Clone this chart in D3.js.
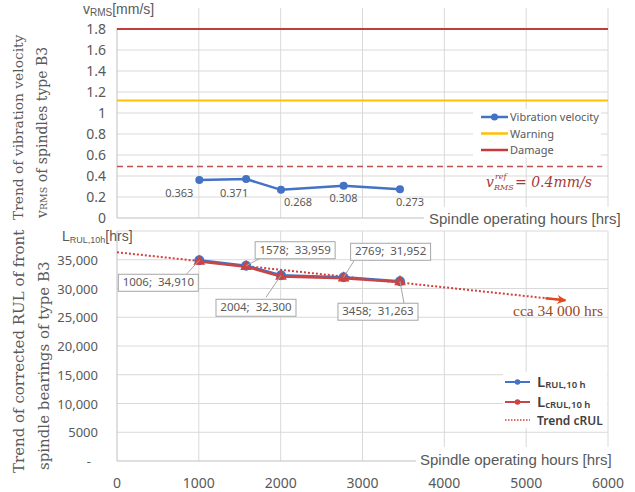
<!DOCTYPE html>
<html>
<head>
<meta charset="utf-8">
<script src="https://cdn.jsdelivr.net/npm/d3@7"></script>
<style>
  body { margin: 0; background: #fff; }
  svg { display: block; }
</style>
</head>
<body>
<svg id="chart" width="635" height="492"></svg>
<script>
// spindle operating hours (shared by both panels)
var hours = [1006, 1578, 2004, 2769, 3458];
// top panel: vibration velocity [mm/s]
var vibration = [0.363, 0.371, 0.268, 0.308, 0.273];
var warningLevel = 1.12;
var damageLevel = 1.8;
var refLevel = 0.49;
// bottom panel: RUL [hrs]
var rul = [34910, 33959, 32300, 31952, 31263];
var crul = [34700, 33800, 32100, 31800, 31150];
var trendHours = [0, 5480];
var trendValues = [36300, 27950];

var xTicks = [0, 1000, 2000, 3000, 4000, 5000, 6000];
var topTicks = [0, 0.2, 0.4, 0.6, 0.8, 1, 1.2, 1.4, 1.6, 1.8];
var botTicks = [0, 5000, 10000, 15000, 20000, 25000, 30000, 35000];

// label offsets (pixels) - placed by hand like in the original
var vibLabelOff = [[-20, 17], [-12, 18], [17, 16], [0, 16], [10, 17]];
var rulBoxOff = [[-41, 22], [49, -16], [-25, 32], [47, -26], [-22, 30]];
var rulLeadOff = [[-13, 14], [15, -8], [-15, 22], [12, -19], [4, 22]];

var svg = d3.select("#chart");
var grid = "#d9d9d9", axisCol = "#bfbfbf", txt = "#595959";

var x = d3.scaleLinear().domain([0, 6000]).range([117, 608]);
var yT = d3.scaleLinear().domain([0, 2]).range([218, 8]);
var yB = d3.scaleLinear().domain([0, 40000]).range([461, 231]);

// ---------- top panel ----------
var topG = svg.append("g");
topG.selectAll(".vg").data(xTicks.slice(1)).enter().append("line")
    .attr("x1", d => x(d)).attr("x2", d => x(d))
    .attr("y1", yT(2)).attr("y2", yT(0))
    .attr("stroke", grid);
topG.selectAll(".hg").data(topTicks.slice(1)).enter().append("line")
    .attr("x1", x(0)).attr("x2", x(6000))
    .attr("y1", d => yT(d)).attr("y2", d => yT(d))
    .attr("stroke", grid);
topG.append("line").attr("x1", x(0)).attr("x2", x(0))
    .attr("y1", yT(damageLevel) - 1).attr("y2", yT(0)).attr("stroke", axisCol);
topG.append("line").attr("x1", x(0)).attr("x2", x(6000))
    .attr("y1", yT(0)).attr("y2", yT(0)).attr("stroke", axisCol);

topG.selectAll(".yl").data(topTicks).enter().append("text")
    .attr("x", 106).attr("y", d => yT(d) + 5)
    .attr("text-anchor", "end")
    .attr("font-family", "Noto Sans").attr("font-size", 14)
    .attr("fill", txt)
    .text(d => d);

// limit lines
topG.append("line").attr("x1", x(0)).attr("x2", x(6000))
    .attr("y1", yT(damageLevel)).attr("y2", yT(damageLevel))
    .attr("stroke", "#c43b3b").attr("stroke-width", 2);
topG.append("line").attr("x1", x(0)).attr("x2", x(6000))
    .attr("y1", yT(warningLevel)).attr("y2", yT(warningLevel))
    .attr("stroke", "#ffc000").attr("stroke-width", 2);
topG.append("line").attr("x1", x(0)).attr("x2", x(5930))
    .attr("y1", yT(refLevel)).attr("y2", yT(refLevel))
    .attr("stroke", "#c0504d").attr("stroke-width", 1.5)
    .attr("stroke-dasharray", "6,4");

var vibData = hours.map((h, i) => ({ h: h, v: vibration[i] }));
topG.append("path").datum(vibData)
    .attr("fill", "none").attr("stroke", "#4472c4").attr("stroke-width", 2.5)
    .attr("d", d3.line().x(d => x(d.h)).y(d => yT(d.v)));
topG.selectAll(".vp").data(vibData).enter().append("circle")
    .attr("cx", d => x(d.h)).attr("cy", d => yT(d.v)).attr("r", 4)
    .attr("fill", "#4472c4");
topG.selectAll(".vl").data(vibData).enter().append("text")
    .attr("x", (d, i) => x(d.h) + vibLabelOff[i][0])
    .attr("y", (d, i) => yT(d.v) + vibLabelOff[i][1])
    .attr("text-anchor", "middle")
    .attr("font-family", "Noto Sans").attr("font-size", 11)
    .attr("fill", txt)
    .text(d => d3.format(".3f")(d.v));

// x title with white background
topG.append("rect").attr("x", 424).attr("y", 207).attr("width", 200).attr("height", 22).attr("fill", "#fff");
topG.append("text").attr("x", 429).attr("y", 224)
    .attr("font-family", "Liberation Sans").attr("font-size", 15)
    .attr("fill", txt).text("Spindle operating hours [hrs]");

// y unit label
var yu = topG.append("text").attr("x", 83).attr("y", 14)
    .attr("font-family", "Liberation Sans").attr("font-size", 14).attr("fill", txt);
yu.append("tspan").text("v");
yu.append("tspan").attr("font-size", 10).attr("dy", 2).text("RMS");
yu.append("tspan").attr("dy", -2).text("[mm/s]");

// legend
var lg = topG.append("g").attr("transform", "translate(473,109)");
lg.append("rect").attr("width", 128).attr("height", 48).attr("fill", "#fff");
var topLeg = [
  { name: "Vibration velocity", col: "#4472c4", dot: true },
  { name: "Warning", col: "#ffc000", dot: false },
  { name: "Damage", col: "#c43b3b", dot: false }
];
topLeg.forEach(function(e, i) {
    var yy = 8 + i * 16.5;
    lg.append("line").attr("x1", 8).attr("x2", 35).attr("y1", yy).attr("y2", yy)
        .attr("stroke", e.col).attr("stroke-width", 2.5);
    if (e.dot) lg.append("circle").attr("cx", 21.5).attr("cy", yy).attr("r", 3.5).attr("fill", e.col);
    lg.append("text").attr("x", 37).attr("y", yy + 4)
        .attr("font-family", "Noto Sans").attr("font-size", 11)
        .attr("fill", txt).text(e.name);
});

// reference annotation
var ra = topG.append("g").attr("fill", "#a33a3a").attr("font-family", "DejaVu Serif")
    .attr("font-style", "italic");
ra.append("text").attr("x", 486).attr("y", 187).attr("font-size", 14).text("v");
ra.append("text").attr("x", 494).attr("y", 190).attr("font-size", 8).text("RMS");
ra.append("text").attr("x", 495).attr("y", 179).attr("font-size", 8).text("ref");
ra.append("text").attr("x", 515).attr("y", 187).attr("font-size", 14).text("= 0.4mm/s");

// rotated titles
function rotTitle(xb, yb, parts, size) {
    var t = svg.append("text")
        .attr("transform", "translate(" + xb + "," + yb + ") rotate(-90)")
        .attr("font-family", "DejaVu Serif").attr("font-size", size)
        .attr("fill", "#595959");
    parts.forEach(function(p) {
        t.append("tspan").attr("font-size", p.s || size).text(p.t);
    });
}
rotTitle(23, 220, [{ t: "Trend of vibration velocity" }], 13.8);
rotTitle(47, 218, [{ t: "v" }, { t: "RMS", s: 9.5 }, { t: " of spindles type B3" }], 14);
rotTitle(24, 473, [{ t: "Trend of corrected RUL of front" }], 15);
rotTitle(49, 470, [{ t: "spindle bearings of type B3" }], 15);

// ---------- bottom panel ----------
var bot = svg.append("g");
bot.selectAll(".vg").data(xTicks.slice(1)).enter().append("line")
    .attr("x1", d => x(d)).attr("x2", d => x(d))
    .attr("y1", yB(40000)).attr("y2", yB(0))
    .attr("stroke", grid);
bot.selectAll(".hg").data(botTicks.slice(1).concat([40000])).enter().append("line")
    .attr("x1", x(0)).attr("x2", x(6000))
    .attr("y1", d => yB(d)).attr("y2", d => yB(d))
    .attr("stroke", grid);
bot.append("line").attr("x1", x(0)).attr("x2", x(0))
    .attr("y1", yB(40000)).attr("y2", yB(0)).attr("stroke", axisCol);
bot.append("line").attr("x1", x(0)).attr("x2", x(6000))
    .attr("y1", yB(0)).attr("y2", yB(0)).attr("stroke", axisCol);

bot.selectAll(".yl").data(botTicks).enter().append("text")
    .attr("x", d => d === 0 ? 91 : 98).attr("y", d => yB(d) + 5)
    .attr("text-anchor", "end")
    .attr("font-family", "Noto Sans").attr("font-size", 13)
    .attr("fill", txt)
    .text(d => d === 0 ? "-" : (d < 10000 ? d : d3.format(",")(d)));
bot.selectAll(".xl").data(xTicks).enter().append("text")
    .attr("x", d => x(d)).attr("y", 488)
    .attr("text-anchor", "middle")
    .attr("font-family", "Noto Sans").attr("font-size", 14)
    .attr("fill", txt)
    .text(d => d);

bot.append("rect").attr("x", 416).attr("y", 447).attr("width", 210).attr("height", 22).attr("fill", "#fff");
bot.append("text").attr("x", 420).attr("y", 465)
    .attr("font-family", "Liberation Sans").attr("font-size", 15)
    .attr("fill", txt).text("Spindle operating hours [hrs]");

var yu2 = bot.append("text").attr("x", 62).attr("y", 241)
    .attr("font-family", "Liberation Sans").attr("font-size", 14).attr("fill", txt);
yu2.append("tspan").text("L");
yu2.append("tspan").attr("font-size", 9).attr("dy", 2).text("RUL,10h");
yu2.append("tspan").attr("dy", -2).text("[hrs]");

// trend line with arrow
svg.append("defs").append("marker").attr("id", "arr")
    .attr("viewBox", "0 0 10 10").attr("refX", 9).attr("refY", 5)
    .attr("markerWidth", 13).attr("markerHeight", 9).attr("orient", "auto")
    .attr("markerUnits", "userSpaceOnUse")
    .append("path").attr("d", "M0,0 L10,5 L0,10 L3,5 Z").attr("fill", "#e2481d");
var trend = trendHours.map((h, i) => ({ h: h, v: trendValues[i] }));
bot.append("path").datum(trend)
    .attr("fill", "none").attr("stroke", "#d2413a").attr("stroke-width", 2)
    .attr("stroke-dasharray", "2,2")
    .attr("d", d3.line().x(d => x(d.h)).y(d => yB(d.v)));
bot.append("line")
    .attr("x1", x(trendHours[1]) - 20).attr("y1", yB(trendValues[1] + 20 * 1.52 * 1000 / 82))
    .attr("x2", x(trendHours[1])).attr("y2", yB(trendValues[1]))
    .attr("stroke", "#e2481d").attr("stroke-width", 2.5)
    .attr("marker-end", "url(#arr)");
bot.append("text").attr("x", 513).attr("y", 316)
    .attr("font-family", "Liberation Serif").attr("font-size", 15.5)
    .attr("fill", "#9a4a1e").text("cca 34 000 hrs");

var rulData = hours.map((h, i) => ({ h: h, v: rul[i] }));
var crulData = hours.map((h, i) => ({ h: h, v: crul[i] }));
bot.append("path").datum(rulData)
    .attr("fill", "none").attr("stroke", "#4472c4").attr("stroke-width", 2.5)
    .attr("d", d3.line().x(d => x(d.h)).y(d => yB(d.v)));
bot.selectAll(".rp").data(rulData).enter().append("circle")
    .attr("cx", d => x(d.h)).attr("cy", d => yB(d.v)).attr("r", 5)
    .attr("fill", "#4472c4");
bot.append("path").datum(crulData)
    .attr("fill", "none").attr("stroke", "#c94545").attr("stroke-width", 2.5)
    .attr("d", d3.line().x(d => x(d.h)).y(d => yB(d.v)));
bot.selectAll(".cp").data(crulData).enter().append("path")
    .attr("transform", d => "translate(" + x(d.h) + "," + yB(d.v) + ")")
    .attr("d", d3.symbol(d3.symbolTriangle, 60))
    .attr("fill", "#c94545");

// callouts
var co = bot.selectAll(".co").data(rulData).enter().append("g");
co.append("line")
    .attr("x1", d => x(d.h)).attr("y1", d => yB(d.v))
    .attr("x2", (d, i) => x(d.h) + rulLeadOff[i][0])
    .attr("y2", (d, i) => yB(d.v) + rulLeadOff[i][1])
    .attr("stroke", "#a6a6a6");
co.append("rect")
    .attr("x", (d, i) => x(d.h) + rulBoxOff[i][0] - 40)
    .attr("y", (d, i) => yB(d.v) + rulBoxOff[i][1] - 8)
    .attr("width", 80).attr("height", 17)
    .attr("fill", "#fff").attr("stroke", "#a6a6a6");
co.append("text")
    .attr("x", (d, i) => x(d.h) + rulBoxOff[i][0])
    .attr("y", (d, i) => yB(d.v) + rulBoxOff[i][1] + 4)
    .attr("text-anchor", "middle")
    .attr("font-family", "Noto Sans").attr("font-size", 11.5)
    .attr("fill", txt).attr("xml:space", "preserve")
    .text(d => d.h + ";  " + d3.format(",")(d.v));

// legend
var lg2 = bot.append("g").attr("transform", "translate(503,372)");
lg2.append("rect").attr("width", 104).attr("height", 56).attr("fill", "#fff");
var botLeg = [
  { a: "L", b: "RUL,10 h", col: "#4472c4", kind: "dot" },
  { a: "L", b: "cRUL,10 h", col: "#c94545", kind: "dot" },
  { a: "Trend cRUL", b: "", col: "#d2413a", kind: "dash" }
];
botLeg.forEach(function(e, i) {
    var yy = [10, 30, 48][i];
    var ln = lg2.append("line").attr("x1", 2).attr("x2", 27).attr("y1", yy).attr("y2", yy)
        .attr("stroke", e.col).attr("stroke-width", e.kind === "dash" ? 1.5 : 2);
    if (e.kind === "dash") ln.attr("stroke-dasharray", "1.5,1.5");
    else lg2.append("circle").attr("cx", 14.5).attr("cy", yy).attr("r", 2.8).attr("fill", e.col);
    var t = lg2.append("text").attr("x", 34).attr("y", yy + 5)
        .attr("font-family", "Noto Sans").attr("font-weight", 600)
        .attr("fill", "#404040");
    if (e.b) {
        t.append("tspan").attr("font-size", 15).text(e.a);
        t.append("tspan").attr("font-size", 9.5).attr("dy", 1).text(e.b);
    } else {
        t.attr("font-size", 12).text(e.a);
    }
});
</script>
</body>
</html>
